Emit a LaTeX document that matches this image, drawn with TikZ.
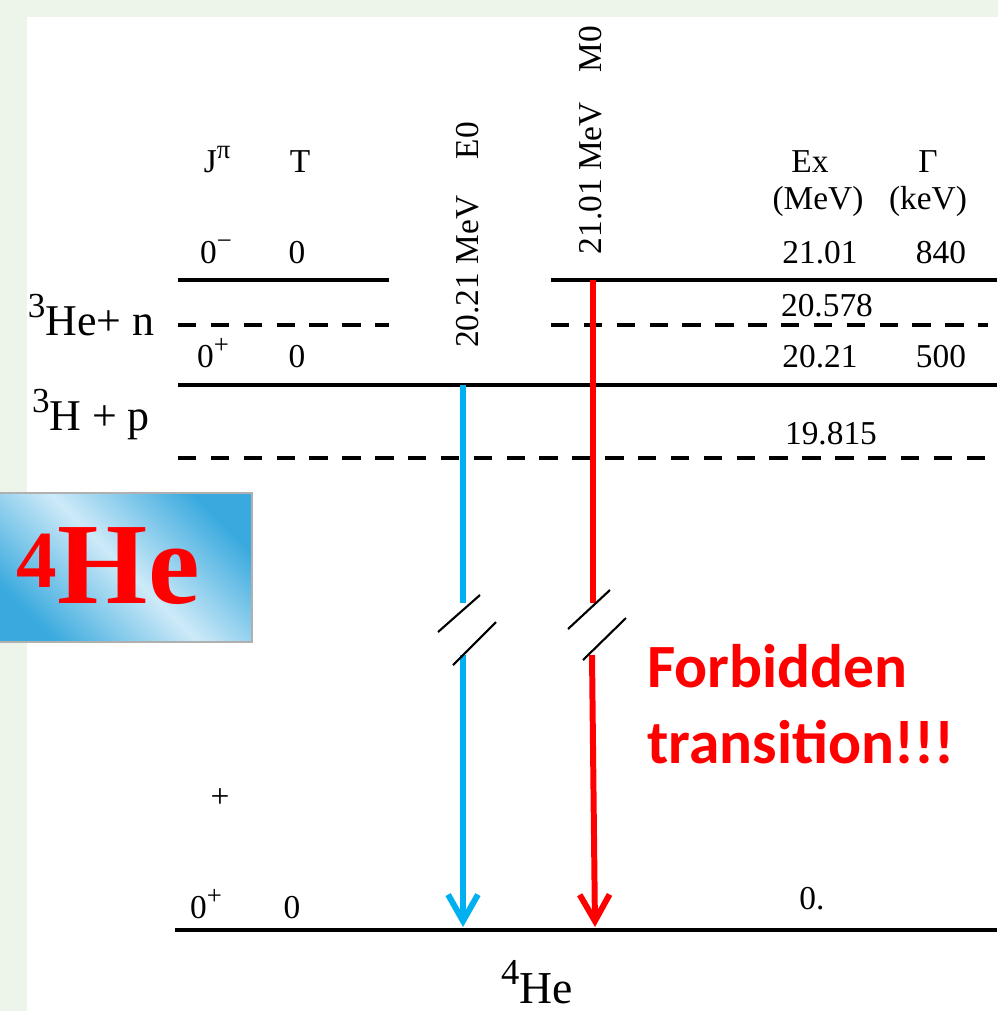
\documentclass[tikz,border=0pt]{standalone}
\usepackage{fontspec}
\setmainfont{Liberation Serif}
\newfontfamily\notefont{Carlito}
\usetikzlibrary{positioning,arrows.meta}
\definecolor{pagegreen}{RGB}{237,245,234}
\definecolor{eblue}{RGB}{0,176,240}
\definecolor{boxblue}{RGB}{58,170,222}
\definecolor{boxlight}{RGB}{206,234,248}
\definecolor{boxedge}{RGB}{176,176,176}
\newcommand{\sups}[1]{\raisebox{0.4em}{\scalebox{0.8}{#1}}}

\begin{document}
\begin{tikzpicture}[
x=0.02cm,y=-0.02cm,
level/.style={line width=2.6pt},
threshold/.style={line width=2.6pt,dash pattern=on 10.5pt off 8.2pt},
txt/.style={anchor=base,inner sep=0pt,font=\fontsize{19}{22}\selectfont},
chan/.style={anchor=base,inner sep=0pt,font=\fontsize{25}{28}\selectfont},
trans/.style={anchor=center,inner sep=0pt,rotate=90,font=\fontsize{19}{22}\selectfont},
gammaline/.style={line width=3.4pt,draw=#1},
gammatip/.style={line width=3.4pt,draw=#1,-{Straight Barb[length=15pt,width=17pt]}},
cut/.style={line width=1.2pt},
hebox/.style={draw=boxedge,line width=1.1pt,minimum width=5.12cm,minimum height=2.98cm,
top color=boxblue,bottom color=boxblue,middle color=boxlight,shading angle=-45},
bighe/.style={anchor=base,inner sep=0pt,text=red,font=\bfseries\fontsize{66}{66}\selectfont},
note/.style={anchor=base west,inner sep=0pt,text=red,font=\notefont\bfseries\fontsize{35}{42}\selectfont}
]
\useasboundingbox (0,0) rectangle (998,1011);
\fill[pagegreen] (0,0) rectangle (998,1011);
\fill[white] (27,17) rectangle (998,1011);

\draw[level] (178,280) -- (389,280);
\draw[level] (551,280) -- (997,280);
\draw[threshold] (178,325) -- (389,325);
\draw[threshold] (551,325) -- (988,325);
\draw[level] (178,385) -- (997,385);
\draw[threshold] (178,458) -- (988,458);
\draw[level] (175,930) -- (997,930);

\node[txt] (jpi) at (217,172) {J\sups{π}};
\node[txt] (tiso) at (300,172) {T};
\node[txt] (ex) at (810,172) {Ex};
\node[txt] (width) at (928,172) {Γ};
\node[txt] (exunit) at (818,209) {(MeV)};
\node[txt] (widthunit) at (928,209) {(keV)};

\node[txt] (jpiA) at (216,263) {0\sups{−}};
\node[txt] (tisoA) at (297,263) {0};
\node[txt] (exA) at (820,263) {21.01};
\node[txt] (widthA) at (941,263) {840};

\node[chan] (hen) at (91,335) {\sups{3}He+ n};
\node[txt] (exHen) at (827,316) {20.578};

\node[txt] (jpiB) at (213,367) {0\sups{+}};
\node[txt] (tisoB) at (297,367) {0};
\node[txt] (exB) at (820,367) {20.21};
\node[txt] (widthB) at (941,367) {500};

\node[chan] (hp) at (91,430) {\sups{3}H + p};
\node[txt] (exHp) at (831,444) {19.815};

\node[anchor=center,inner sep=0pt,font=\fontsize{19}{22}\selectfont] (plus) at (220,798) {+};
\node[txt] (jpiG) at (206,918) {0\sups{+}};
\node[txt] (tisoG) at (292,918) {0};
\node[txt] (exG) at (812,909) {0.};
\node[anchor=base,inner sep=0pt,font=\fontsize{26}{28}\selectfont] (nucleus) at (537,1003) {\sups{4}He};

\node[trans] (eolabel) at (468,235) {20.21 MeV\hspace{1.1em}E0};
\node[trans] (molabel) at (591,140) {21.01 MeV\hspace{0.9em}M0};

\coordinate (e0top) at (463,385);
\coordinate (e0cutA) at (463,603);
\coordinate (e0cutB) at (463,655);
\coordinate (e0gs) at (463,927);
\coordinate (m0top) at (593,280);
\coordinate (m0cutA) at (593,603);
\coordinate (m0cutB) at (592,655);
\coordinate (m0gs) at (595,927);

\draw[gammaline=eblue] (e0top) -- (e0cutA);
\draw[gammatip=eblue] (e0cutB) -- (e0gs);
\draw[gammaline=red] (m0top) -- (m0cutA);
\draw[gammatip=red] (m0cutB) -- (m0gs);

\draw[cut] (438,632) -- (480,595);
\draw[cut] (453,665) -- (496,622);
\draw[cut] (568,629) -- (610,590);
\draw[cut] (583,660) -- (626,618);

\node[hebox] (hebg) at (124,567.5) {};
\node[bighe] (helabel) at (108,603) {\textsuperscript{4}He};

\node[note] (forbid) at (647,687) {Forbidden};
\node[note] (transition) at (647,763) {transition!!!};

\end{tikzpicture}
\end{document}
